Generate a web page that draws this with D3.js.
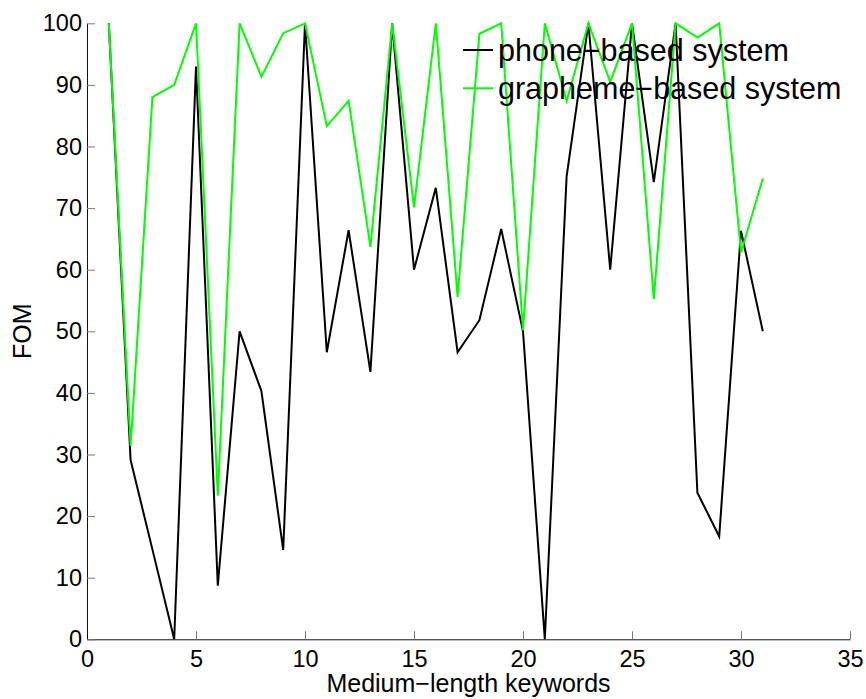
<!DOCTYPE html>
<html>
<head>
<meta charset="utf-8">
<script src="https://cdn.jsdelivr.net/npm/d3@7"></script>
<style>
  body { margin: 0; background: #fff; }
  svg text { font-family: "Liberation Sans", Arial, sans-serif; fill: #000; }
</style>
</head>
<body>
<svg id="chart" width="866" height="699"></svg>
<script>
// keyword index 1..31
const keywords = d3.range(1, 32);
// FOM per keyword
const phoneFom = [100, 29.1, 14.6, 0, 93.0, 8.7, 50, 40.3, 14.5, 100, 46.6, 66.4, 43.4, 100, 60.0, 73.3,
    46.6, 51.8, 66.6, 50, 0, 75.1, 100, 60.0, 100, 74.2, 100, 23.8, 16.7, 66.3, 50.0];
const graphemeFom = [100, 31.4, 88, 90, 100, 23.3, 100, 91.3, 98.4, 100, 83.3, 87.4, 63.7, 100, 70.1, 100,
    55.6, 98.3, 100, 50.2, 100, 87.4, 100, 90.5, 100, 55.2, 100, 97.7, 100, 62.8, 74.8];
const seriesNames = ["phone\u2212based system", "grapheme\u2212based system"];
const seriesColors = ["#000000", "#00ff00"];
const xTicks = [0, 5, 10, 15, 20, 25, 30, 35];
const yTicks = [0, 10, 20, 30, 40, 50, 60, 70, 80, 90, 100];

const svg = d3.select('#chart');

var x = d3.scaleLinear().domain([0, 35]).range([87, 850]);
var y = d3.scaleLinear().domain([0, 100]).range([639.3, 23.3]);

// axes (ticks point inwards like matlab)
var xAxis = svg.append('g')
    .attr('transform', 'translate(0,' + y(0) + ')')
    .call(d3.axisBottom(x).tickValues(xTicks).tickSizeInner(-8).tickSizeOuter(0).tickPadding(11));
var yAxis = svg.append('g')
    .attr('transform', 'translate(' + x(0) + ',0)')
    .call(d3.axisLeft(y).tickValues(yTicks).tickSizeInner(-8).tickSizeOuter(0).tickPadding(5));

[xAxis, yAxis].forEach(function (ax) {
    ax.select('.domain').attr('stroke', '#111').attr('stroke-width', 1);
    ax.selectAll('.tick line').attr('stroke', '#777');
    ax.selectAll('.tick text').style('font-size', '23.5px').attr('fill', '#000');
});

svg.append('text')
    .attr('x', (x(0) + x(35)) / 2)
    .attr('y', 692)
    .attr('text-anchor', 'middle')
    .style('font-size', '25px')
    .text('Medium\u2212length keywords');

svg.append('text')
    .attr('transform', 'translate(31,' + ((y(0) + y(100)) / 2) + ') rotate(-90)')
    .attr('text-anchor', 'middle')
    .style('font-size', '25px')
    .text('FOM');

var line = d3.line()
    .x(function (d) { return x(d[0]); })
    .y(function (d) { return y(d[1]); });

[phoneFom, graphemeFom].forEach(function (vals, i) {
    svg.append('path')
        .datum(keywords.map(function (k, j) { return [k, vals[j]]; }))
        .attr('d', line)
        .attr('fill', 'none')
        .attr('stroke', seriesColors[i])
        .attr('stroke-width', 2)
        .attr('stroke-linejoin', 'miter');
});

// legend, no box
var legend = svg.append('g');
seriesNames.forEach(function (name, i) {
    var ly = 50 + i * 38.3;
    legend.append('line')
        .attr('x1', 463).attr('x2', 493)
        .attr('y1', ly).attr('y2', ly)
        .attr('stroke', seriesColors[i])
        .attr('stroke-width', 2);
    legend.append('text')
        .attr('x', 498)
        .attr('y', ly + 11)
        .style('font-size', '30.5px')
        .text(name);
});
</script>
</body>
</html>
